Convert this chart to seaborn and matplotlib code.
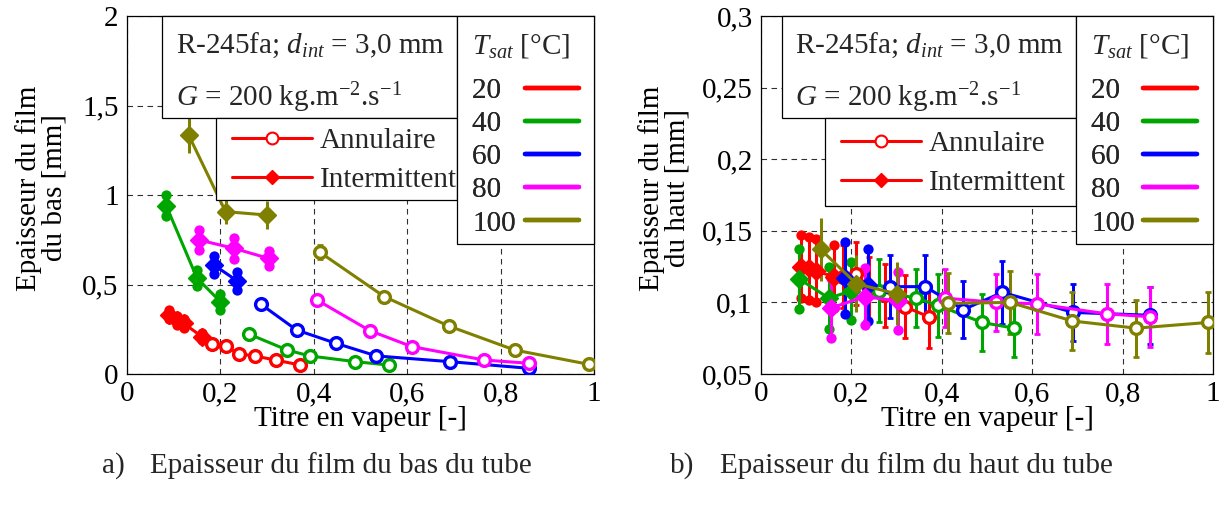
import matplotlib
matplotlib.use("Agg")
import matplotlib.pyplot as plt
import seaborn as sns
import pandas as pd
from matplotlib.patches import Rectangle
from matplotlib.lines import Line2D

# ---------------- data ----------------
temps = [20, 40, 60, 80, 100]
colors = ["#ff0000", "#00a600", "#0000ff", "#ff00ff", "#808000"]

# vapour quality (same experiments in both panels)
x_int_20 = [0.089, 0.107, 0.121, 0.161]
x_ann_20 = [0.182, 0.211, 0.239, 0.275, 0.318, 0.371]
x_int_40 = [0.084, 0.150, 0.200]
x_ann_40 = [0.261, 0.343, 0.391, 0.489, 0.560]
x_int_60 = [0.186, 0.236]
x_ann_60 = [0.286, 0.363, 0.448, 0.534, 0.691, 0.860]
x_int_80 = [0.154, 0.229, 0.303]
x_ann_80 = [0.407, 0.520, 0.610, 0.765, 0.860]
x_int_100 = [0.132, 0.211, 0.300]
x_ann_100 = [0.413, 0.551, 0.689, 0.830, 0.989]

# bottom film thickness [mm] and its uncertainty
yb_int_20 = [0.330, 0.300, 0.283, 0.208]
eb_int_20 = [0.025, 0.025, 0.025, 0.020]
yb_ann_20 = [0.165, 0.155, 0.113, 0.100, 0.078, 0.050]
eb_ann_20 = [0.015, 0.015, 0.015, 0.012, 0.012, 0.015]
yb_int_40 = [0.940, 0.535, 0.404]
eb_int_40 = [0.060, 0.045, 0.045]
yb_ann_40 = [0.223, 0.134, 0.101, 0.069, 0.050]
eb_ann_40 = [0.010, 0.010, 0.010, 0.010, 0.010]
yb_int_60 = [0.609, 0.520]
eb_int_60 = [0.050, 0.050]
yb_ann_60 = [0.391, 0.246, 0.171, 0.101, 0.069, 0.032]
eb_ann_60 = [0.020, 0.012, 0.012, 0.010, 0.010, 0.010]
yb_int_80 = [0.749, 0.702, 0.646]
eb_int_80 = [0.055, 0.060, 0.040]
yb_ann_80 = [0.413, 0.242, 0.153, 0.078, 0.060]
eb_ann_80 = [0.020, 0.012, 0.012, 0.010, 0.010]
yb_int_100 = [1.335, 0.907, 0.888]
eb_int_100 = [0.100, 0.070, 0.080]
yb_ann_100 = [0.680, 0.432, 0.268, 0.134, 0.054]
eb_ann_100 = [0.040, 0.020, 0.010, 0.010, 0.010]

# top film thickness [mm] and its uncertainty
yh_int_20 = [0.125, 0.124, 0.122, 0.118]
eh_int_20 = [0.022, 0.022, 0.022, 0.022]
yh_ann_20 = [0.118, 0.120, 0.110, 0.105, 0.097, 0.090]
eh_ann_20 = [0.022, 0.022, 0.022, 0.022, 0.022, 0.022]
yh_int_40 = [0.1165, 0.103, 0.108]
eh_int_40 = [0.021, 0.0215, 0.020]
yh_ann_40 = [0.108, 0.103, 0.098, 0.086, 0.082]
eh_ann_40 = [0.022, 0.020, 0.022, 0.020, 0.020]
yh_int_60 = [0.117, 0.112]
eh_int_60 = [0.025, 0.025]
yh_ann_60 = [0.111, 0.111, 0.095, 0.107, 0.093, 0.091]
eh_ann_60 = [0.022, 0.022, 0.020, 0.022, 0.020, 0.020]
yh_int_80 = [0.096, 0.104, 0.101]
eh_int_80 = [0.021, 0.020, 0.020]
yh_ann_80 = [0.103, 0.100, 0.099, 0.092, 0.090]
eh_ann_80 = [0.020, 0.020, 0.021, 0.021, 0.021]
yh_int_100 = [0.137, 0.113, 0.106]
eh_int_100 = [0.022, 0.020, 0.022]
yh_ann_100 = [0.0993, 0.100, 0.087, 0.082, 0.086]
eh_ann_100 = [0.021, 0.022, 0.020, 0.020, 0.021]

xticks = [0, 0.2, 0.4, 0.6, 0.8, 1]
xticklabels = ["0", "0,2", "0,4", "0,6", "0,8", "1"]
yticks_b = [0, 0.5, 1, 1.5, 2]
yticklabels_b = ["0", "0,5", "1", "1,5", "2"]
yticks_h = [0.05, 0.1, 0.15, 0.2, 0.25, 0.3]
yticklabels_h = ["0,05", "0,1", "0,15", "0,2", "0,25", "0,3"]

regimes = ["Annulaire", "Intermittent"]

# ---------------- build table ----------------
g = globals()
rows = []
for T in temps:
    for reg, key in (("Intermittent", "int"), ("Annulaire", "ann")):
        xs = g[f"x_{key}_{T}"]
        for i, xv in enumerate(xs):
            rows.append(dict(T=T, regime=reg, x=xv,
                             yb=g[f"yb_{key}_{T}"][i], eb=g[f"eb_{key}_{T}"][i],
                             yh=g[f"yh_{key}_{T}"][i], eh=g[f"eh_{key}_{T}"][i]))
df = pd.DataFrame(rows)

# ---------------- style ----------------
sns.set_theme(style="white")
plt.rcParams["font.family"] = ["Liberation Serif", "DejaVu Serif"]
plt.rcParams["mathtext.fontset"] = "custom"
plt.rcParams["mathtext.rm"] = "Liberation Serif"
plt.rcParams["mathtext.it"] = "Liberation Serif:italic"
plt.rcParams["mathtext.bf"] = "Liberation Serif:bold"
FS = 21
LW = 2.2

fig = plt.figure(figsize=(12.24, 5.05), dpi=100)
W, H = 1224, 505
ax1 = fig.add_axes([127 / W, 131 / H, 467 / W, 358 / H])
ax2 = fig.add_axes([761 / W, 131 / H, 452 / W, 358 / H])


def draw_panel(ax, ycol, ecol):
    for T, c in zip(temps, colors):
        for reg in ("Intermittent", "Annulaire"):
            sub = df[(df["T"] == T) & (df["regime"] == reg)]
            if reg == "Annulaire":
                ax.errorbar(sub["x"], sub[ycol], yerr=sub[ecol], fmt="none",
                            ecolor=c, elinewidth=2.2, capsize=2.5, capthick=2.0, zorder=2)
                sns.lineplot(data=sub, x="x", y=ycol, ax=ax, color=c, lw=LW,
                             marker="o", markersize=8.5, markerfacecolor="white",
                             markeredgecolor=c, markeredgewidth=2.4,
                             estimator=None, sort=False, legend=False, zorder=3)
            else:
                ax.errorbar(sub["x"], sub[ycol], yerr=sub[ecol], fmt="none",
                            ecolor=c, elinewidth=2.2, capsize=0, zorder=2)
                if T != 100:
                    ends = pd.concat([
                        pd.DataFrame({"x": sub["x"], "y": sub[ycol] + sub[ecol]}),
                        pd.DataFrame({"x": sub["x"], "y": sub[ycol] - sub[ecol]})])
                    sns.scatterplot(data=ends, x="x", y="y", ax=ax, color=c, s=55,
                                    linewidth=0, legend=False, zorder=2)
                sns.lineplot(data=sub, x="x", y=ycol, ax=ax, color=c, lw=LW,
                             marker="D", markersize=9, markerfacecolor=c,
                             markeredgecolor=c, markeredgewidth=1,
                             estimator=None, sort=False, legend=False, zorder=3)


draw_panel(ax1, "yb", "eb")
draw_panel(ax2, "yh", "eh")


def style_axes(ax, yticks, yticklabels, ylim, ylabel, ylab_x):
    ax.set_xlim(0, 1)
    ax.set_ylim(*ylim)
    ax.set_xticks(xticks)
    ax.set_xticklabels(xticklabels)
    ax.set_yticks(yticks)
    ax.set_yticklabels(yticklabels)
    ax.tick_params(axis="both", direction="in", length=4, width=0.8,
                   labelsize=FS, colors="black", pad=6)
    ax.tick_params(axis="x", pad=5)
    ax.set_axisbelow(True)
    ax.grid(True, color="#303030", linestyle=(0, (5, 4)), linewidth=0.8)
    for s in ax.spines.values():
        s.set_visible(True)
        s.set_color("black")
        s.set_linewidth(0.9)
    ax.set_xlabel("Titre en vapeur [-]", fontsize=FS, color="black")
    ax.xaxis.set_label_coords(0.5, -0.089)
    ax.set_ylabel(ylabel, fontsize=FS, color="black", multialignment="center",
                  linespacing=0.95)
    ax.yaxis.set_label_coords(ylab_x, 0.52)


style_axes(ax1, yticks_b, yticklabels_b, (0, 2), "Epaisseur du film\ndu bas [mm]", -0.128)
style_axes(ax2, yticks_h, yticklabels_h, (0.05, 0.3), "Epaisseur du film\ndu haut [mm]", -0.157)


def add_boxes(ax, b1x, b2x, b2bottom, b3x):
    # info box
    ax.add_patch(Rectangle((b1x, 0.715), b3x - b1x, 1 - 0.715,
                           transform=ax.transAxes, facecolor="white", edgecolor="black",
                           lw=0.9, zorder=5, clip_on=False))
    ax.text(b1x + 0.030, 0.918, "R-245fa; $d_{int}$ = 3,0 mm", transform=ax.transAxes,
            fontsize=FS, va="center", ha="left", zorder=6)
    ax.text(b1x + 0.030, 0.772, "$G$ = 200 kg.m$^{-2}$.s$^{-1}$", transform=ax.transAxes,
            fontsize=FS, va="center", ha="left", zorder=6)
    # regime box
    ax.add_patch(Rectangle((b2x, b2bottom), b3x - b2x, 0.715 - b2bottom,
                           transform=ax.transAxes, facecolor="white", edgecolor="black",
                           lw=0.9, zorder=5, clip_on=False))
    h_ann = Line2D([], [], color="red", lw=LW, marker="o", markersize=8.5,
                   markerfacecolor="white", markeredgecolor="red", markeredgewidth=1.5)
    h_int = Line2D([], [], color="red", lw=LW, marker="D", markersize=7.5,
                   markerfacecolor="red", markeredgecolor="red")
    leg2 = ax.legend([h_ann, h_int], regimes, loc="center left",
                     bbox_to_anchor=(b2x + 0.035, (0.715 + b2bottom) / 2 - 0.004),
                     frameon=False, fontsize=FS, handlelength=2.75, handletextpad=0.27,
                     labelspacing=0.45, borderpad=0, borderaxespad=0)
    leg2.set_zorder(6)
    ax.add_artist(leg2)
    # temperature box
    ax.add_patch(Rectangle((b3x, 0.363), 1 - b3x, 1 - 0.363,
                           transform=ax.transAxes, facecolor="white", edgecolor="black",
                           lw=0.9, zorder=5, clip_on=False))
    ax.text(b3x + 0.032, 0.915, "$T_{sat}$ [°C]", transform=ax.transAxes,
            fontsize=FS, va="center", ha="left", zorder=6)
    th = [Line2D([], [], color=c, lw=3.2) for c in colors]
    # pad labels with figure spaces so the numbers sit left-aligned in the column
    labels = [str(t) + "\u2007" * (3 - len(str(t))) for t in temps]
    leg3 = ax.legend(th, labels, loc="center left",
                     bbox_to_anchor=(b3x + 0.032, 0.606), frameon=False, fontsize=FS,
                     markerfirst=False, handlelength=1.85, handletextpad=0.3,
                     labelspacing=0.23, borderpad=0, borderaxespad=0)
    leg3.set_zorder(6)
    ax.add_artist(leg3)


add_boxes(ax1, 0.075, 0.190, 0.486, 0.707)
add_boxes(ax2, 0.046, 0.142, 0.469, 0.698)

fig.text(102 / W, 1 - 466 / H, "a)", fontsize=FS, va="center", ha="left")
fig.text(150 / W, 1 - 466 / H, "Epaisseur du film du bas du tube", fontsize=FS, va="center", ha="left")
fig.text(670 / W, 1 - 466 / H, "b)", fontsize=FS, va="center", ha="left")
fig.text(720 / W, 1 - 466 / H, "Epaisseur du film du haut du tube", fontsize=FS, va="center", ha="left")

fig.savefig("out.png", dpi=100, facecolor="white")
